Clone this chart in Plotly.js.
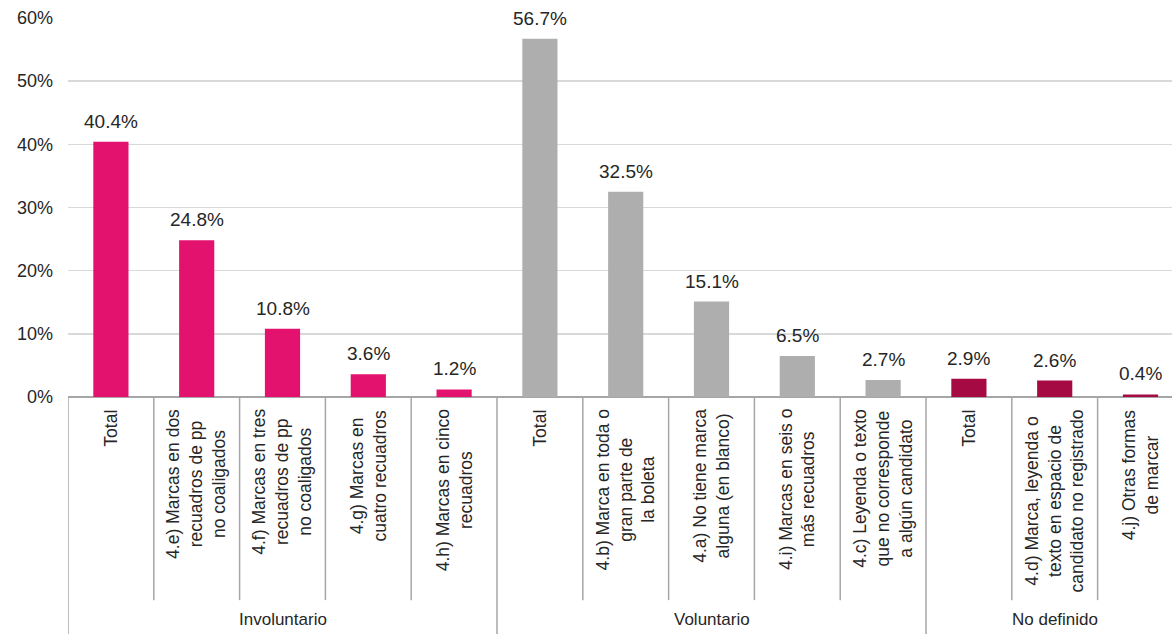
<!DOCTYPE html>
<html>
<head>
<meta charset="utf-8">
<script src="https://cdn.plot.ly/plotly-3.0.1.min.js"></script>
<style>html,body{margin:0;padding:0;background:#fff;}#chart{width:1172px;height:634px;}</style>
</head>
<body>
<div id="chart"></div>
<script>
// ---- data ----
const groups = ["Involuntario", "Voluntario", "No definido"];
const groupColors = ["#E3126E", "#AEAEAE", "#A50A42"];
const catLabels = [
  "Total",
  "4.e) Marcas en dos<br>recuadros de pp<br>no coaligados",
  "4.f) Marcas en tres<br>recuadros de pp<br>no coaligados",
  "4.g) Marcas en<br>cuatro recuadros",
  "4.h) Marcas en cinco<br>recuadros",
  "Total",
  "4.b) Marca en toda o<br>gran parte de<br>la boleta",
  "4.a) No tiene marca<br>alguna (en blanco)",
  "4.i) Marcas en seis o<br>más recuadros",
  "4.c) Leyenda o texto<br>que no corresponde<br>a algún candidato",
  "Total",
  "4.d) Marca, leyenda o<br>texto en espacio de<br>candidato no registrado",
  "4.j) Otras formas<br>de marcar"
];
const involuntarioValues = [40.4, 24.8, 10.8, 3.6, 1.2];
const voluntarioValues = [56.7, 32.5, 15.1, 6.5, 2.7];
const noDefinidoValues = [2.9, 2.6, 0.4];
const groupValues = [involuntarioValues, voluntarioValues, noDefinidoValues];
const yTickVals = [0, 10, 20, 30, 40, 50, 60];

// ---- build ----
const FONT = "Liberation Sans, Arial, sans-serif";
const traces = [];
const annotations = [];
const shapes = [];
let idx = 0;
const groupStarts = [];
groupValues.forEach((vals, g) => {
  const xs = vals.map((_, i) => idx + i);
  groupStarts.push(idx);
  traces.push({
    type: "bar",
    x: xs,
    y: vals,
    width: 0.41,
    marker: {color: groupColors[g]},
    hoverinfo: "x+y",
    showlegend: false
  });
  xs.forEach((x, i) => {
    annotations.push({
      x: x, y: vals[i], xref: "x", yref: "y",
      text: vals[i].toFixed(1) + "%",
      showarrow: false, yanchor: "bottom", yshift: 8,
      font: {family: FONT, size: 19, color: "#262626"}
    });
  });
  // group label
  annotations.push({
    x: idx + (vals.length - 1) / 2, y: -0.588, xref: "x", yref: "paper",
    text: groups[g], showarrow: false, yanchor: "middle",
    font: {family: FONT, size: 17, color: "#262626"}
  });
  idx += vals.length;
});
groupStarts.push(idx);

catLabels.forEach((t, i) => {
  annotations.push({
    x: i, y: -0.027, xref: "x", yref: "paper",
    text: t, textangle: -90, showarrow: false, yanchor: "top", xanchor: "center",
    align: "center",
    font: {family: FONT, size: 17.5, color: "#262626"}
  });
});

// dividers
for (let b = 0; b <= catLabels.length; b++) {
  const isGroup = groupStarts.indexOf(b) >= 0;
  shapes.push({
    type: "line", xref: "x", yref: "paper",
    x0: b - 0.5, x1: b - 0.5, y0: 0, y1: isGroup ? -0.64 : -0.536,
    line: {color: "#A6A6A6", width: 1.5}
  });
}

const layout = {
  width: 1172, height: 634,
  margin: {l: 68, r: 0, t: 18, b: 237},
  paper_bgcolor: "#ffffff", plot_bgcolor: "#ffffff",
  font: {family: FONT, color: "#262626"},
  barmode: "overlay",
  xaxis: {
    range: [-0.5, 12.367],
    showticklabels: false, showgrid: false, zeroline: false, showline: false,
    ticks: ""
  },
  yaxis: {
    range: [0, 60],
    tickvals: yTickVals,
    ticktext: yTickVals.map(v => v + "%"),
    showgrid: true, gridcolor: "#D9D9D9", gridwidth: 1.5,
    zeroline: true, zerolinecolor: "#A6A6A6", zerolinewidth: 1.5,
    showline: false, ticks: "",
    ticklabelstandoff: 14,
    tickfont: {family: FONT, size: 18, color: "#262626"}
  },
  annotations: annotations,
  shapes: shapes
};

Plotly.newPlot("chart", traces, layout, {displayModeBar: false, staticPlot: true});
</script>
</body>
</html>
